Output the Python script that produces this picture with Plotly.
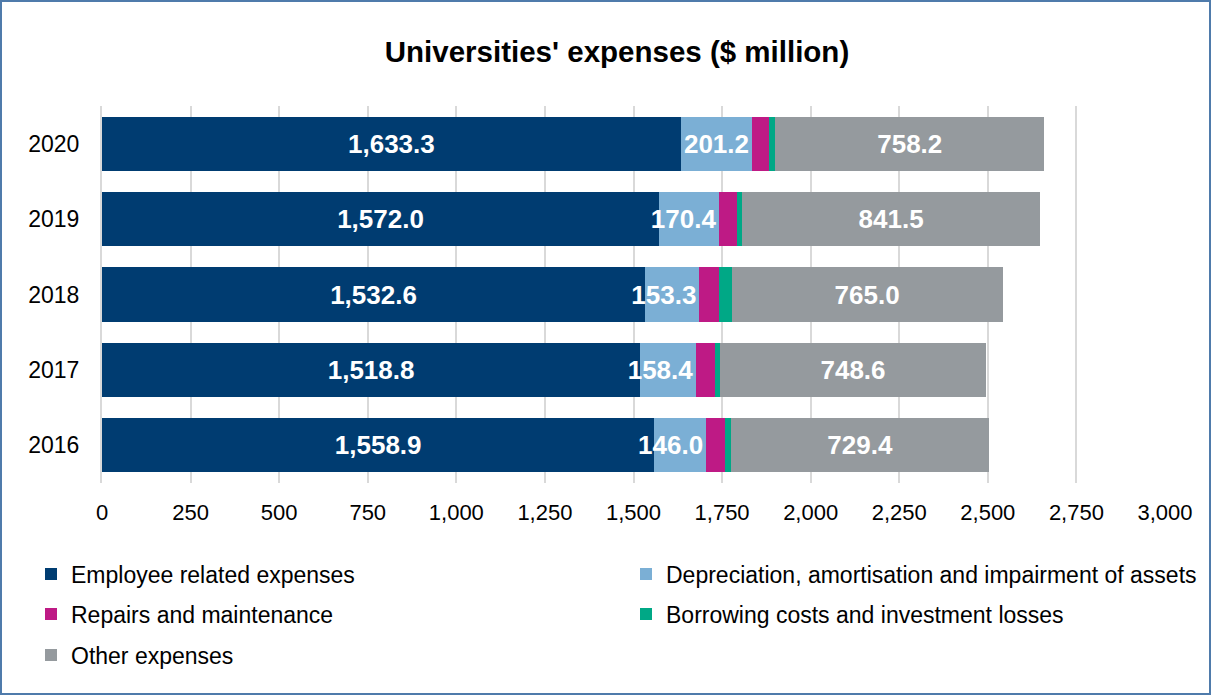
import plotly.graph_objects as go

# Universities' expenses by category, $ million
years = ["2016", "2017", "2018", "2019", "2020"]
employee = [1558.9, 1518.8, 1532.6, 1572.0, 1633.3]
depreciation = [146.0, 158.4, 153.3, 170.4, 201.2]
repairs = [54.0, 52.0, 56.0, 49.0, 49.0]
borrowing = [16.0, 16.0, 35.0, 15.0, 17.0]
other = [729.4, 748.6, 765.0, 841.5, 758.2]

x_ticks = list(range(0, 3001, 250))

W, H = 1212, 696
ML, MR, MT, MB = 102, 47, 106, 213
PW, PH = W - ML - MR, H - MT - MB


def px_x(px):
    return (px - ML) / PW


def px_y(py):
    return (H - MB - py) / PH


# name, values, colour, value-label anchor (None = no labels), legend slot (left px, centre y px)
series = [
    ("Employee related expenses", employee, "#003c71", "middle", (31, 574)),
    ("Depreciation, amortisation and impairment of assets", depreciation, "#7bafd5", "end", (626, 574)),
    ("Repairs and maintenance", repairs, "#be1a85", None, (31, 614)),
    ("Borrowing costs and investment losses", borrowing, "#00a886", None, (626, 614)),
    ("Other expenses", other, "#959a9e", "middle", (31, 655)),
]

fig = go.Figure()
legends = {}
for i, (name, vals, color, anchor, (lx, ly)) in enumerate(series):
    key = "legend" if i == 0 else f"legend{i + 1}"
    labelled = anchor is not None
    fig.add_trace(go.Bar(
        y=years, x=vals, name=name, orientation="h",
        marker=dict(color=color, line=dict(width=0)),
        text=vals if labelled else None,
        texttemplate="<b>%{x:,.1f}</b>" if labelled else None,
        textposition="inside" if labelled else "none",
        insidetextanchor=anchor or "middle",
        constraintext="none",
        textangle=0,
        textfont=dict(color="white", size=26, family="Liberation Sans, Arial"),
        hoverinfo="skip",
        legend=key,
    ))
    legends[key] = dict(
        x=px_x(lx), y=px_y(ly), xanchor="left", yanchor="middle",
        orientation="h",
        font=dict(size=23, color="#000000", family="Liberation Sans, Arial"),
        bgcolor="rgba(0,0,0,0)", itemclick=False, itemdoubleclick=False,
    )

fig.update_layout(
    width=W, height=H,
    margin=dict(l=ML, r=MR, t=MT, b=MB, autoexpand=False),
    paper_bgcolor="white", plot_bgcolor="white",
    barmode="stack", bargap=0.283,
    font=dict(family="Liberation Sans, Arial", size=22, color="#000000"),
    title=dict(
        text="<b>Universities' expenses ($ million)</b>",
        x=617 / W, xref="container", xanchor="center",
        y=1 - 52 / H, yref="container", yanchor="middle",
        font=dict(size=29.5, color="#000000"),
    ),
    xaxis=dict(
        range=[0, 3000], tickvals=x_ticks, tickformat=",d",
        showgrid=True, gridcolor="#d9d9d9", gridwidth=2,
        zeroline=False, showline=False, ticks="",
        ticklabelstandoff=14,
        tickfont=dict(size=22),
        fixedrange=True,
    ),
    yaxis=dict(
        type="category", categoryorder="array", categoryarray=years,
        showgrid=False, zeroline=False,
        showline=True, linecolor="#d9d9d9", linewidth=2,
        ticks="", ticklabelstandoff=16,
        tickfont=dict(size=23),
        fixedrange=True,
    ),
    showlegend=True,
    shapes=[dict(
        type="rect", xref="paper", yref="paper",
        x0=px_x(1), x1=px_x(1210), y0=px_y(694), y1=px_y(1),
        line=dict(color="#4f7bab", width=2), fillcolor="rgba(0,0,0,0)",
        layer="below",
    )],
    **legends,
)

fig.write_html("out.html", include_plotlyjs=True, config={"displayModeBar": False})
